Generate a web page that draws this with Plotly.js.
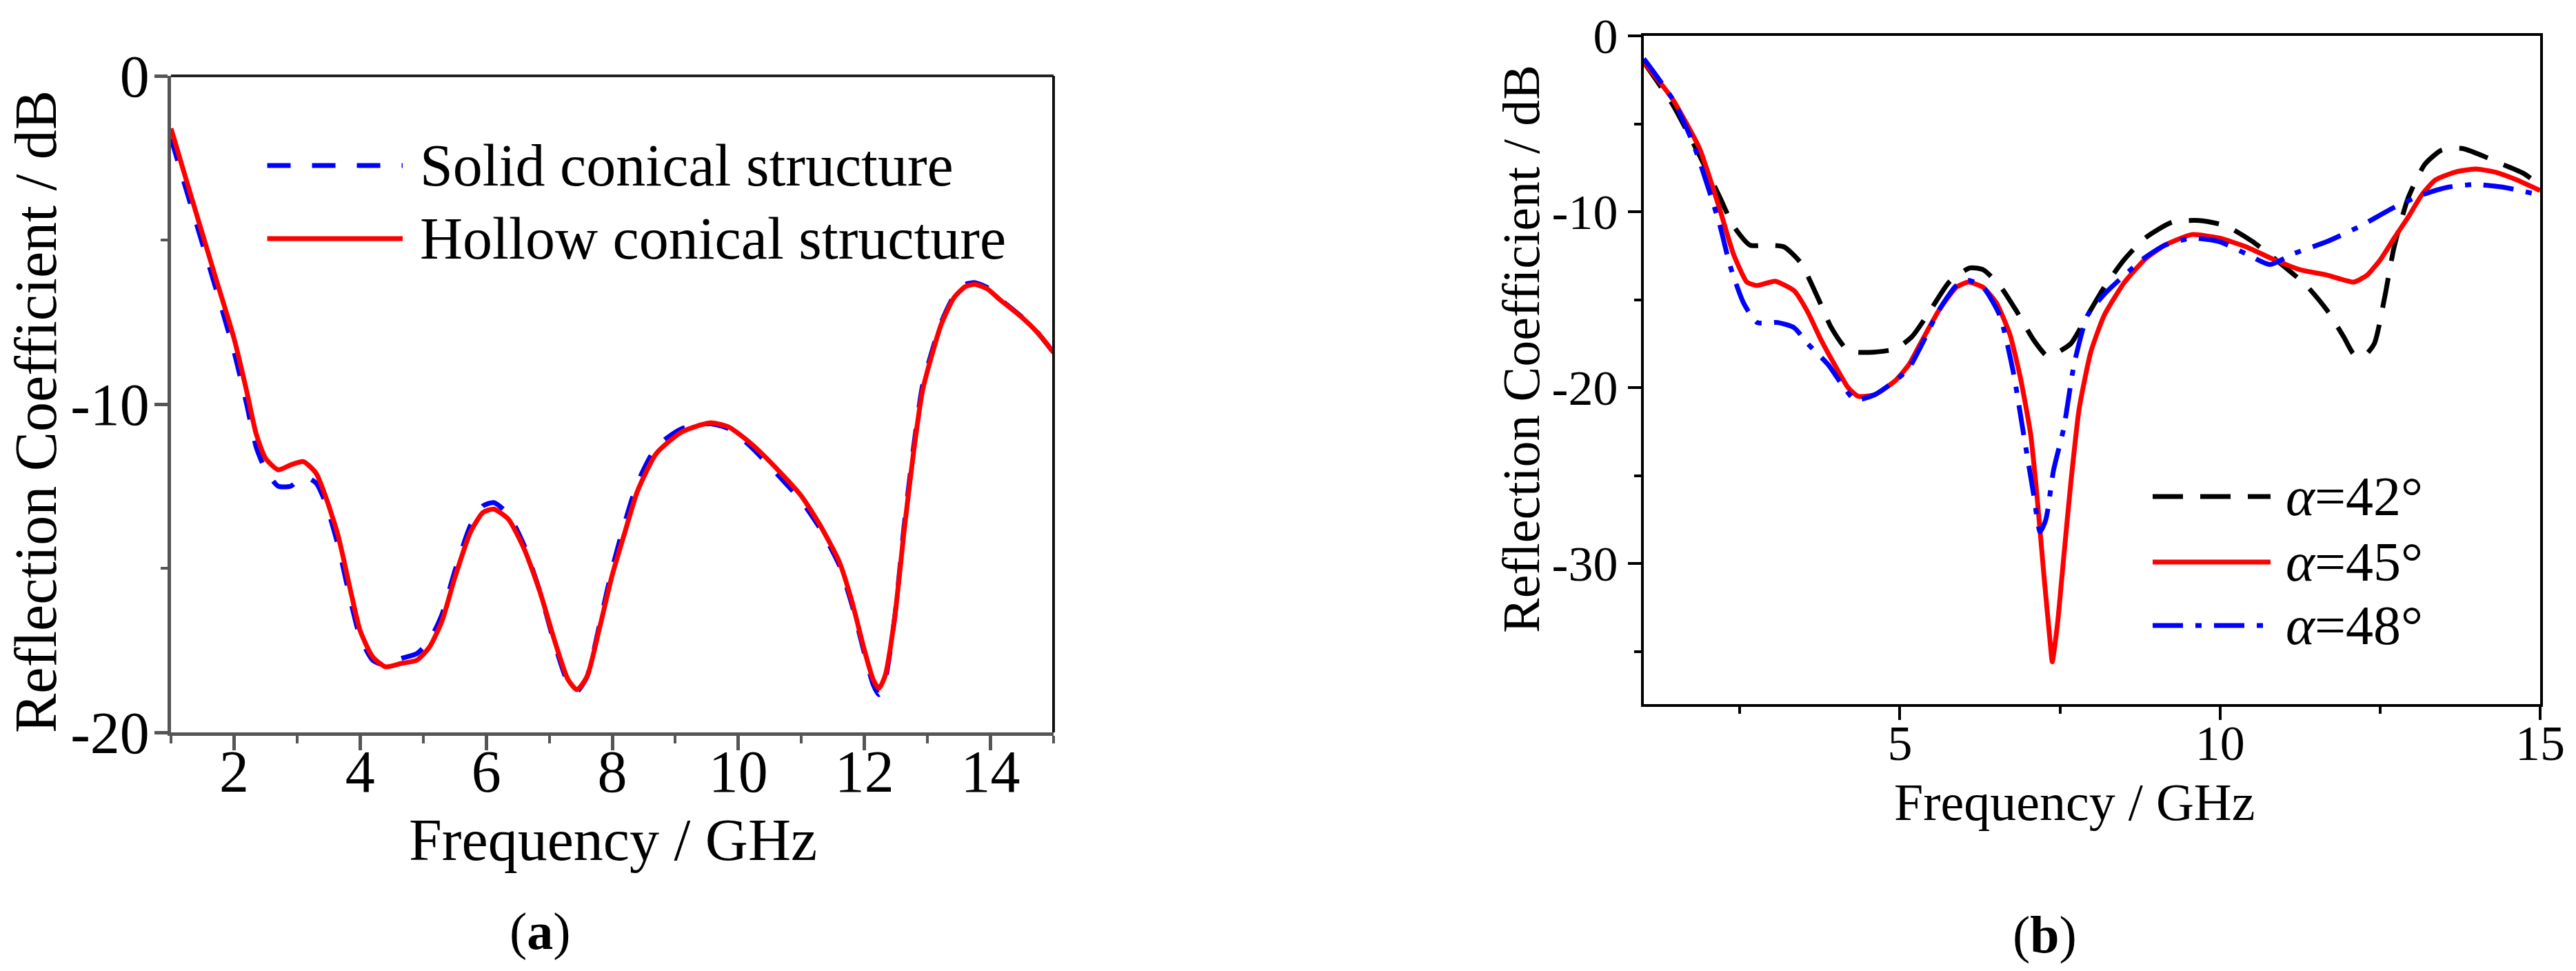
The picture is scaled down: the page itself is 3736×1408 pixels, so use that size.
<!DOCTYPE html>
<html>
<head>
<meta charset="utf-8">
<script src="https://cdn.plot.ly/plotly-3.0.1.min.js"></script>
<style>html,body{margin:0;padding:0;background:#fff}#chart{width:3736px;height:1408px}</style>
</head>
<body>
<div id="chart"></div>
<script>
// ---------- Panel (a): reflection coefficient (dB) vs frequency (GHz) ----------
const freqA = [1.0,1.2,1.45,1.7,2.0,2.2,2.35,2.5,2.7,2.9,3.1,3.3,3.45,3.65,3.85,4.0,4.2,4.4,4.65,4.9,5.1,5.3,5.5,5.75,5.95,6.12,6.35,6.6,6.85,7.1,7.3,7.44,7.6,7.8,8.0,8.2,8.4,8.7,9.1,9.55,9.85,10.2,10.6,11.0,11.3,11.6,11.8,12.0,12.14,12.23,12.33,12.48,12.63,12.78,12.92,13.07,13.22,13.42,13.6,13.75,13.95,14.15,14.5,14.75,15.0];
const hollowA = [-1.6,-2.9,-4.5,-6.1,-8.0,-9.6,-10.9,-11.65,-12.0,-11.85,-11.75,-12.1,-12.8,-14.0,-15.7,-16.9,-17.7,-18.0,-17.9,-17.8,-17.4,-16.6,-15.3,-13.9,-13.3,-13.2,-13.5,-14.4,-15.7,-17.3,-18.4,-18.7,-18.3,-16.8,-15.2,-13.9,-12.65,-11.5,-10.85,-10.57,-10.7,-11.2,-11.95,-12.8,-13.7,-14.8,-16.0,-17.5,-18.4,-18.66,-18.26,-16.5,-13.85,-11.45,-9.6,-8.5,-7.56,-6.76,-6.42,-6.35,-6.49,-6.82,-7.36,-7.83,-8.43];
const solidA = [-1.9,-3.2,-4.8,-6.4,-8.4,-10.0,-11.3,-12.0,-12.5,-12.5,-12.2,-12.4,-13.0,-14.3,-16.0,-17.1,-17.8,-17.95,-17.75,-17.6,-17.2,-16.4,-15.1,-13.7,-13.1,-13.0,-13.35,-14.3,-15.7,-17.4,-18.5,-18.75,-18.3,-16.7,-15.0,-13.6,-12.4,-11.3,-10.75,-10.6,-10.75,-11.3,-12.1,-12.95,-13.8,-14.9,-16.1,-17.6,-18.55,-18.85,-18.4,-16.5,-13.7,-11.3,-9.45,-8.4,-7.5,-6.7,-6.35,-6.3,-6.45,-6.8,-7.35,-7.83,-8.43];
const namesA = ["Solid conical structure","Hollow conical structure"];

// ---------- Panel (b) ----------
const freq42 = [1.0,1.45,1.87,2.19,2.4,2.66,2.93,3.19,3.45,3.72,3.93,4.19,4.51,4.93,5.19,5.46,5.77,6.09,6.3,6.56,6.83,7.09,7.3,7.46,7.67,7.93,8.19,8.51,8.83,9.25,9.67,10.09,10.51,10.93,11.35,11.67,11.93,12.09,12.25,12.41,12.57,12.72,12.94,13.2,13.46,13.78,14.09,14.41,14.73,15.0];
const alpha42 = [-1.5,-3.9,-6.8,-9.2,-10.8,-11.9,-11.9,-12.0,-12.9,-14.9,-16.6,-17.9,-18.0,-17.8,-17.1,-15.7,-14.0,-13.2,-13.3,-14.2,-15.7,-17.3,-18.2,-18.0,-17.5,-15.9,-14.3,-12.7,-11.5,-10.6,-10.5,-10.8,-11.7,-12.9,-14.2,-15.6,-17.1,-18.1,-18.2,-17.5,-14.9,-12.0,-9.2,-7.3,-6.5,-6.4,-6.8,-7.3,-7.8,-8.5];
const freq45 = [1.0,1.45,1.87,2.19,2.4,2.61,2.77,3.05,3.35,3.56,3.77,3.98,4.19,4.35,4.61,4.93,5.14,5.35,5.61,5.88,6.07,6.3,6.51,6.72,6.88,7.04,7.14,7.25,7.35,7.38,7.46,7.56,7.67,7.8,7.98,8.19,8.51,8.83,9.14,9.56,9.99,10.41,10.83,11.25,11.67,12.09,12.3,12.51,12.72,12.94,13.15,13.36,13.67,13.99,14.3,14.62,15.0];
const alpha45 = [-1.5,-3.6,-6.4,-9.9,-12.4,-14.0,-14.2,-13.95,-14.5,-15.7,-17.3,-18.7,-20.0,-20.5,-20.4,-19.6,-18.7,-17.3,-15.6,-14.3,-14.0,-14.3,-15.2,-17.0,-19.4,-22.6,-26.1,-30.7,-34.6,-35.6,-33.5,-29.6,-25.4,-21.2,-18.0,-15.9,-14.0,-12.7,-11.9,-11.3,-11.5,-12.0,-12.7,-13.3,-13.6,-14.0,-13.6,-12.7,-11.5,-10.3,-9.05,-8.2,-7.75,-7.57,-7.75,-8.17,-8.8];
const freq48 = [1.0,1.45,1.77,2.03,2.19,2.35,2.56,2.77,3.09,3.35,3.56,3.88,4.09,4.3,4.61,4.93,5.14,5.35,5.61,5.88,6.07,6.3,6.56,6.77,6.93,7.09,7.19,7.28,7.4,7.56,7.72,7.93,8.19,8.51,8.83,9.14,9.56,9.99,10.41,10.78,11.14,11.67,12.2,12.72,13.15,13.57,13.99,14.41,15.0];
const alpha48 = [-1.3,-3.6,-6.1,-8.9,-10.8,-13.1,-15.2,-16.3,-16.3,-16.6,-17.5,-18.7,-19.8,-20.7,-20.4,-19.6,-18.9,-17.5,-15.6,-14.2,-13.9,-14.3,-15.9,-19.1,-22.6,-26.1,-28.2,-27.5,-24.7,-22.3,-18.7,-15.9,-14.7,-13.6,-12.6,-11.9,-11.5,-11.7,-12.4,-13.0,-12.4,-11.7,-10.8,-9.75,-9.05,-8.6,-8.45,-8.6,-9.05];
const namesB = ["α=42°","α=45°","α=48°"];

// ---------- Tick labels and titles ----------
const xTicksA = [2,4,6,8,10,12,14];
const xTickTextA = ["2","4","6","8","10","12","14"];
const yTicksA = [0,-10,-20];
const yTickTextA = ["0","-10","-20"];
const xTicksB = [5,10,15];
const xTickTextB = ["5","10","15"];
const yTicksB = [0,-10,-20,-30];
const yTickTextB = ["0","-10","-20","-30"];
const xTitle = "Frequency / GHz";
const yTitle = "Reflection Coefficient / dB";
const panelLabels = ["(<b>a</b>)","(<b>b</b>)"];

const FONT = "Liberation Serif, Times New Roman, serif";
const W = 3736, H = 1408;
const greyA = "#555555";

function axisCommon(color, lw, size) {
  return {
    showline: true, linecolor: color, linewidth: lw,
    showgrid: false, zeroline: false, ticks: "outside", tickcolor: color,
    tickwidth: lw, tickmode: "array",
    tickfont: {family: FONT, size: size, color: "#000"}
  };
}

const traces = [
  {x: freqA, y: solidA, xaxis: "x", yaxis: "y", mode: "lines", name: namesA[0],
   line: {color: "#0000ff", width: 7, dash: "34px,31px", shape: "spline", smoothing: 0.6}},
  {x: freqA, y: hollowA, xaxis: "x", yaxis: "y", mode: "lines", name: namesA[1],
   line: {color: "#ff0000", width: 7, shape: "spline", smoothing: 0.6}},
  {x: freq42, y: alpha42, xaxis: "x2", yaxis: "y2", mode: "lines", name: namesB[0],
   line: {color: "#000000", width: 7, dash: "44px,25px", shape: "spline", smoothing: 0.6}},
  {x: freq45, y: alpha45, xaxis: "x2", yaxis: "y2", mode: "lines", name: namesB[1],
   line: {color: "#ff0000", width: 7, shape: "spline", smoothing: 0.5}},
  {x: freq48, y: alpha48, xaxis: "x2", yaxis: "y2", mode: "lines", name: namesB[2],
   line: {color: "#0000ff", width: 7, dash: "44px,18px,9px,18px", shape: "spline", smoothing: 0.6}}
];

const xa = Object.assign(axisCommon(greyA, 5, 86), {
  domain: [248/W, 1528/W], range: [1, 15], anchor: "y", mirror: false,
  tickvals: xTicksA, ticktext: xTickTextA, ticklen: 21, ticklabelstandoff: -43,
  minor: {tickvals: [1,3,5,7,9,11,13,15], ticks: "outside", ticklen: 11, tickwidth: 4, tickcolor: greyA}
});
const ya = Object.assign(axisCommon(greyA, 5, 86), {
  domain: [1 - 1062/H, 1 - 110/H], range: [-20, 0], anchor: "x", mirror: false,
  tickvals: yTicksA, ticktext: yTickTextA, ticklen: 19, ticklabelstandoff: -10,
  minor: {tickvals: [-5,-15], ticks: "outside", ticklen: 10, tickwidth: 4, tickcolor: greyA}
});
const xb = Object.assign(axisCommon("#000", 4, 72), {
  domain: [2384/W, 3684/W], range: [1, 15], anchor: "y2", mirror: true,
  tickvals: xTicksB, ticktext: xTickTextB, ticklen: 19, ticklabelstandoff: -28,
  minor: {tickvals: [2.5,7.5,12.5], ticks: "outside", ticklen: 10, tickwidth: 4, tickcolor: "#000"}
});
const yb = Object.assign(axisCommon("#000", 4, 72), {
  domain: [1 - 1021/H, 1 - 52/H], range: [-38, 0], anchor: "x2", mirror: true,
  tickvals: yTicksB, ticktext: yTickTextB, ticklen: 19,
  minor: {tickvals: [-5,-15,-25,-35], ticks: "outside", ticklen: 10, tickwidth: 4, tickcolor: "#000"}
});

const shapes = [
  // darker top and right frame of panel (a)
  {type: "line", xref: "x domain", yref: "y domain", x0: 0, x1: 1, y0: 1, y1: 1, line: {color: "#222", width: 4}},
  {type: "line", xref: "x domain", yref: "y domain", x0: 1, x1: 1, y0: 0, y1: 1, line: {color: "#111", width: 4}},
  // legend samples
  {type: "line", xref: "x domain", yref: "y domain", x0: 0.109, x1: 0.2625, y0: 0.8634, y1: 0.8634,
   line: {color: "#0000ff", width: 7, dash: "34px,31px"}},
  {type: "line", xref: "x domain", yref: "y domain", x0: 0.109, x1: 0.2625, y0: 0.7521, y1: 0.7521,
   line: {color: "#ff0000", width: 7}},
  {type: "line", xref: "x2 domain", yref: "y2 domain", x0: 0.5677, x1: 0.6992, y0: 0.3106, y1: 0.3106,
   line: {color: "#000000", width: 7, dash: "44px,25px"}},
  {type: "line", xref: "x2 domain", yref: "y2 domain", x0: 0.5677, x1: 0.6992, y0: 0.2126, y1: 0.2126,
   line: {color: "#ff0000", width: 7}},
  {type: "line", xref: "x2 domain", yref: "y2 domain", x0: 0.5677, x1: 0.6992, y0: 0.1176, y1: 0.1176,
   line: {color: "#0000ff", width: 7, dash: "44px,18px,9px,18px"}}
];
function legendText(txt, xref, yref, x, y, size) {
  return {text: txt, xref: xref, yref: yref, x: x, y: y, xanchor: "left", yanchor: "middle",
          showarrow: false, font: {family: FONT, size: size, color: "#000"}};
}
function paperText(txt, px, py, size, angle) {
  return {text: txt, xref: "paper", yref: "paper", x: px / W, y: 1 - py / H,
          xanchor: "center", yanchor: "middle", showarrow: false, textangle: angle || 0,
          font: {family: FONT, size: size, color: "#000"}};
}
function greek(t) { return t.replace("α", "<i>α</i>"); }
const annotations = [
  legendText(namesA[0], "x domain", "y domain", 0.2805, 0.8634, 86),
  legendText(namesA[1], "x domain", "y domain", 0.2805, 0.7521, 86),
  legendText(greek(namesB[0]), "x2 domain", "y2 domain", 0.7146, 0.3106, 80),
  legendText(greek(namesB[1]), "x2 domain", "y2 domain", 0.7146, 0.2126, 80),
  legendText(greek(namesB[2]), "x2 domain", "y2 domain", 0.7146, 0.1176, 80),
  paperText(panelLabels[0], 783, 1350, 76),
  paperText(panelLabels[1], 2965, 1355, 76),
  // axis titles
  paperText(xTitle, 889, 1218, 86),
  paperText(yTitle, 52, 597, 86, -90),
  paperText(xTitle, 3008, 1163, 76),
  paperText(yTitle, 2206, 506, 76, -90)
];

const layout = {
  width: W, height: H, autosize: false,
  margin: {l: 0, r: 0, t: 0, b: 0},
  paper_bgcolor: "#ffffff", plot_bgcolor: "#ffffff",
  showlegend: false,
  font: {family: FONT, color: "#000"},
  xaxis: xa, yaxis: ya, xaxis2: xb, yaxis2: yb,
  shapes: shapes, annotations: annotations
};

Plotly.newPlot("chart", traces, layout, {staticPlot: true, displayModeBar: false});
</script>
</body>
</html>
